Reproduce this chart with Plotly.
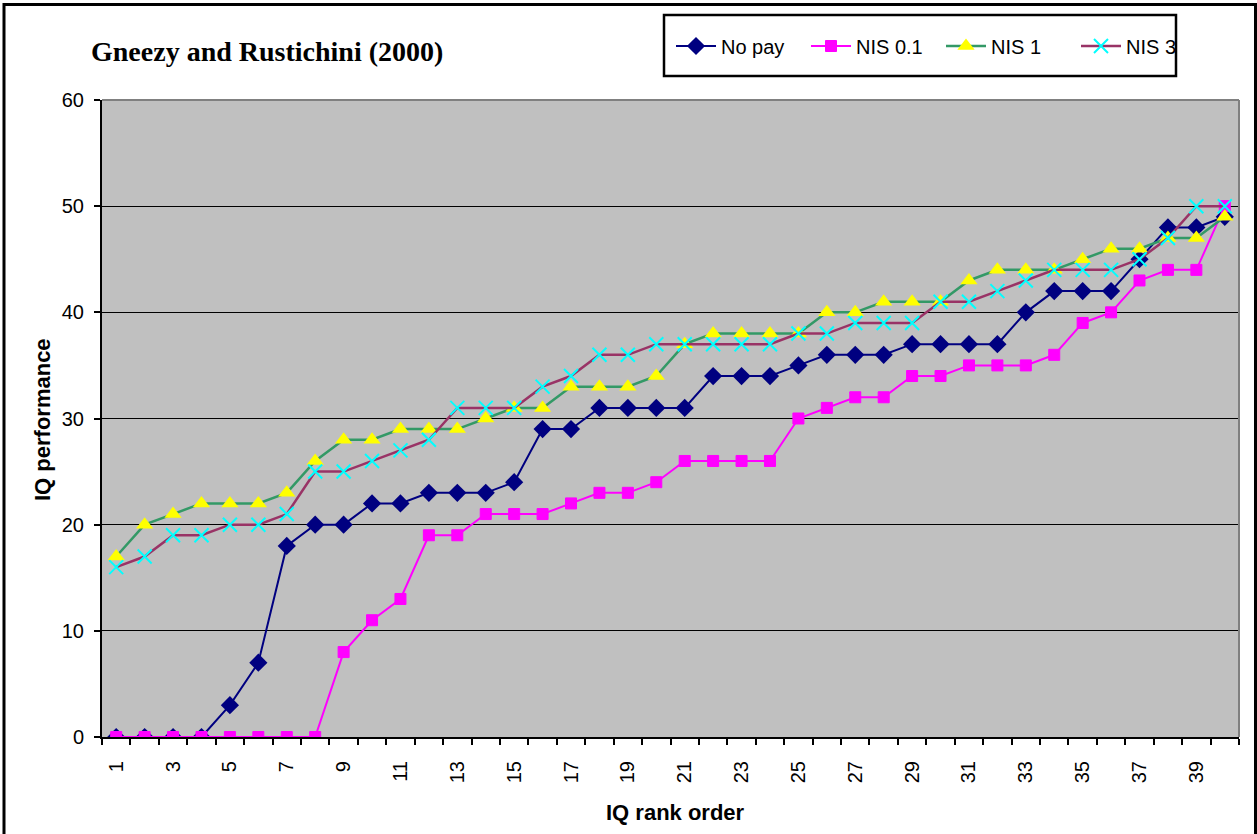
import plotly.graph_objects as go

# ---- data ----
rank = list(range(1, 41))
no_pay = [0, 0, 0, 0, 3, 7, 18, 20, 20, 22, 22, 23, 23, 23, 24, 29, 29, 31, 31, 31,
          31, 34, 34, 34, 35, 36, 36, 36, 37, 37, 37, 37, 40, 42, 42, 42, 45, 48, 48, 49]
nis_01 = [0, 0, 0, 0, 0, 0, 0, 0, 8, 11, 13, 19, 19, 21, 21, 21, 22, 23, 23, 24,
          26, 26, 26, 26, 30, 31, 32, 32, 34, 34, 35, 35, 35, 36, 39, 40, 43, 44, 44, 50]
nis_1 = [17, 20, 21, 22, 22, 22, 23, 26, 28, 28, 29, 29, 29, 30, 31, 31, 33, 33, 33, 34,
         37, 38, 38, 38, 38, 40, 40, 41, 41, 41, 43, 44, 44, 44, 45, 46, 46, 47, 47, 49]
nis_3 = [16, 17, 19, 19, 20, 20, 21, 25, 25, 26, 27, 28, 31, 31, 31, 33, 34, 36, 36, 37,
         37, 37, 37, 37, 38, 38, 39, 39, 39, 41, 41, 42, 43, 44, 44, 44, 45, 47, 50, 50]
x_tick_vals = list(range(1, 40, 2))
x_tick_text = [str(v) for v in x_tick_vals]
y_tick_vals = [0, 10, 20, 30, 40, 50, 60]

W, H = 1257, 834
L, R, T, B = 102, 18, 100, 97
PW, PH = W - L - R, H - T - B


def px(xp):
    return (xp - L) / PW


def py(yp):
    return (H - B - yp) / PH


SANS = "Liberation Sans, Arial, sans-serif"
SERIF = "Liberation Serif, Times New Roman, serif"

fig = go.Figure()
fig.add_trace(go.Scatter(
    x=rank, y=no_pay, name="No pay", mode="lines+markers",
    line=dict(color="#000080", width=2),
    marker=dict(symbol="diamond", size=14, color="#000080",
                line=dict(color="#000080", width=0))))
fig.add_trace(go.Scatter(
    x=rank, y=nis_01, name="NIS 0.1", mode="lines+markers",
    line=dict(color="#FF00FF", width=2),
    marker=dict(symbol="square", size=11, color="#FF00FF",
                line=dict(color="#FF00FF", width=1))))
fig.add_trace(go.Scatter(
    x=rank, y=nis_1, name="NIS 1", mode="lines+markers",
    line=dict(color="#339966", width=2.5),
    marker=dict(symbol="triangle-up", size=15, color="#FFFF00",
                line=dict(width=0))))
fig.add_trace(go.Scatter(
    x=rank, y=nis_3, name="NIS 3", mode="lines+markers",
    line=dict(color="#993366", width=2.5),
    marker=dict(symbol="x-thin", size=14, color="#00FFFF",
                line=dict(color="#00FFFF", width=2))))

fig.update_layout(
    width=W, height=H,
    margin=dict(l=L, r=R, t=T, b=B, pad=0),
    paper_bgcolor="white",
    plot_bgcolor="#C0C0C0",
    font=dict(family=SANS, size=20, color="black"),
    showlegend=True,
    legend=dict(
        orientation="h", x=px(671), y=py(46), xanchor="left", yanchor="middle",
        bgcolor="rgba(0,0,0,0)", borderwidth=0,
        font=dict(family=SANS, size=20, color="black"),
        entrywidth=80, entrywidthmode="pixels",
        itemwidth=40, tracegroupgap=0,
    ),
    xaxis=dict(
        range=[0.5, 40.5], tickmode="array", tickvals=x_tick_vals,
        ticktext=x_tick_text, tickangle=-90, ticks="",
        ticklabelstandoff=14,
        showgrid=False, zeroline=False,
        showline=True, linecolor="black", linewidth=2,
        tickfont=dict(family=SANS, size=20, color="black"),
        minor=dict(tick0=0.5, dtick=1, ticks="outside", ticklen=6,
                   tickwidth=2, tickcolor="black", showgrid=False),
    ),
    yaxis=dict(
        range=[0, 60], tickmode="array", tickvals=y_tick_vals,
        ticks="outside", ticklen=6, tickwidth=2, tickcolor="black",
        showgrid=True, gridcolor="black", gridwidth=1,
        zeroline=False, showline=True, linecolor="black", linewidth=2,
        ticklabelstandoff=6,
        tickfont=dict(family=SANS, size=20, color="black"),
    ),
    annotations=[
        dict(text="<b>Gneezy and Rustichini (2000)</b>", x=px(267), y=py(51),
             xref="paper", yref="paper", xanchor="center", yanchor="middle",
             showarrow=False, font=dict(family=SERIF, size=28, color="black")),
        dict(text="<b>IQ performance</b>", x=px(42), y=py(420),
             xref="paper", yref="paper", xanchor="center", yanchor="middle",
             textangle=-90, showarrow=False,
             font=dict(family=SANS, size=22, color="black")),
        dict(text="<b>IQ rank order</b>", x=px(675), y=py(812),
             xref="paper", yref="paper", xanchor="center", yanchor="middle",
             showarrow=False, font=dict(family=SANS, size=22, color="black")),
    ],
    shapes=[
        dict(type="line", xref="paper", yref="paper", x0=0, x1=1, y0=1, y1=1,
             line=dict(color="#808080", width=2), layer="above"),
        dict(type="line", xref="paper", yref="paper", x0=1, x1=1, y0=0, y1=1,
             line=dict(color="#808080", width=2), layer="above"),
        dict(type="rect", xref="paper", yref="paper",
             x0=px(4), x1=px(1255.5), y0=py(845), y1=py(4.5),
             line=dict(color="black", width=3), fillcolor="rgba(0,0,0,0)",
             layer="above"),
        # legend frame
        dict(type="rect", xref="paper", yref="paper",
             x0=px(664), x1=px(1176), y0=py(76), y1=py(15),
             line=dict(color="black", width=2.5), fillcolor="rgba(0,0,0,0)",
             layer="above"),
    ],
)

fig.write_html(
    "out.html",
    config={"displayModeBar": False},
    post_script="document.body.style.margin='0';document.body.style.overflow='hidden';",
)
